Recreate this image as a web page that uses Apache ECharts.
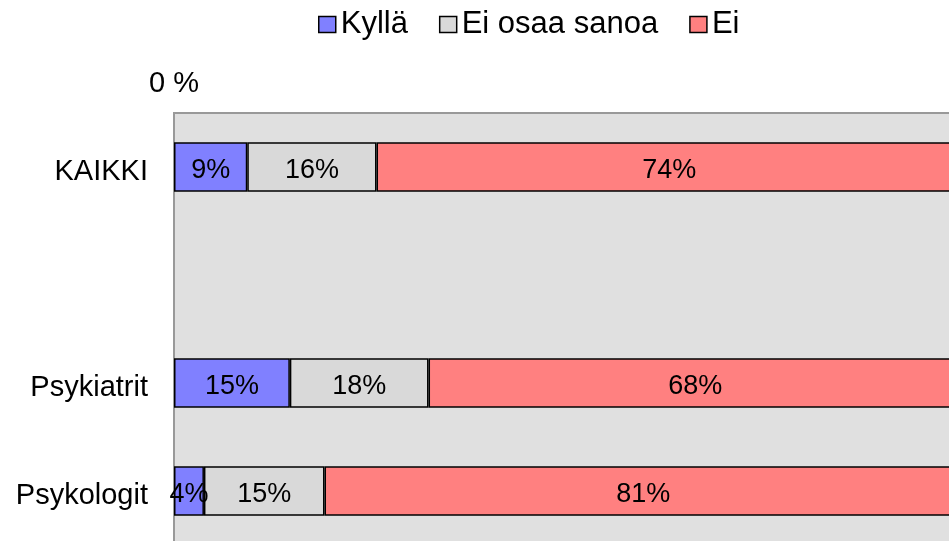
<!DOCTYPE html>
<html>
<head>
<meta charset="utf-8">
<script src="https://cdn.jsdelivr.net/npm/echarts@6/dist/echarts.min.js"></script>
<style>
  html, body { margin: 0; padding: 0; background: #fff; overflow: hidden; }
  #chart { width: 1000px; height: 600px; }
</style>
</head>
<body>
<div id="chart"></div>
<script>
// groups, top to bottom (blank row between KAIKKI and Psykiatrit)
const categories = ['KAIKKI', '', 'Psykiatrit', 'Psykologit'];
const seriesNames = ['Kyllä', 'Ei osaa sanoa', 'Ei'];

// shares in percent
const kylla = [9.3, null, 14.7, 3.8];
const eiOsaa = [16.4, null, 17.6, 15.3];
const ei = [74.3, null, 67.7, 80.9];

const colors = ['#8080ff', '#d9d9d9', '#ff8080'];
const FONT = "'Liberation Sans', Arial, sans-serif";

const chart = echarts.init(document.getElementById('chart'), null, { renderer: 'canvas' });

function makeSeries(name, data, color) {
  return {
    name: name,
    type: 'bar',
    stack: 'total',
    data: data,
    barCategoryGap: '54%',
    itemStyle: { color: color, borderColor: '#000', borderWidth: 1.5 },
    label: {
      show: true,
      position: 'inside',
      offset: [0, 4],
      fontFamily: FONT,
      fontSize: 27,
      color: '#000',
      formatter: p => Math.round(p.value) + '%',
    },
  };
}

chart.setOption({
  animation: false,
  textStyle: { fontFamily: FONT },
  legend: {
    left: 313,
    top: 4,
    itemWidth: 17,
    itemHeight: 16,
    itemGap: 31,
    icon: 'rect',
    itemStyle: { borderColor: '#000', borderWidth: 1.5 },
    textStyle: { fontFamily: FONT, fontSize: 31, color: '#000' },
    data: seriesNames,
  },
  grid: {
    left: 174,
    top: 113,
    width: 788,
    height: 432,
    show: true,
    backgroundColor: '#e0e0e0',
    borderColor: '#999',
    borderWidth: 2,
  },
  xAxis: {
    type: 'value',
    position: 'top',
    min: 0,
    max: 100,
    interval: 20,
    axisLine: { show: false },
    axisTick: { show: false },
    splitLine: { show: false },
    axisLabel: {
      margin: 15,
      fontFamily: FONT,
      fontSize: 29,
      color: '#000',
      formatter: v => (v === 0 ? '0 %' : ''),
    },
  },
  yAxis: {
    type: 'category',
    inverse: true,
    data: categories,
    axisLine: { show: false },
    axisTick: { show: false },
    axisLabel: {
      margin: 26,
      color: '#000',
      formatter: v => '{c|' + v + '}',
      rich: {
        c: { fontFamily: FONT, fontSize: 29, color: '#000', padding: [9, 0, 0, 0] },
      },
    },
  },
  series: [
    makeSeries(seriesNames[0], kylla, colors[0]),
    makeSeries(seriesNames[1], eiOsaa, colors[1]),
    makeSeries(seriesNames[2], ei, colors[2]),
  ],
});
</script>
</body>
</html>
